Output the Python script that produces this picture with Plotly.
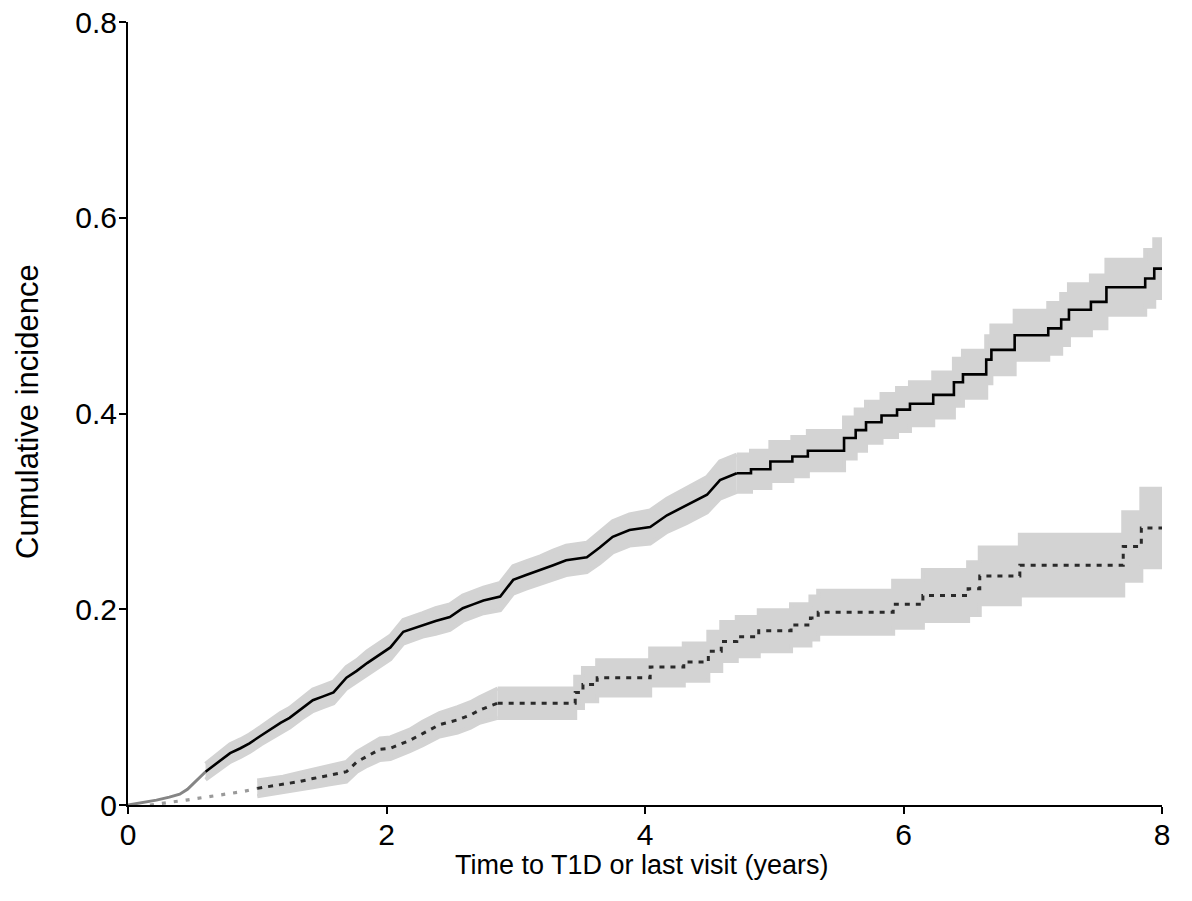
import plotly.graph_objects as go

# ---- Data ----
# Upper curve: early segment (grey, solid)
up_early_t = [0.00, 0.05, 0.12, 0.22, 0.32, 0.40, 0.46, 0.50, 0.55, 0.60]
up_early_y = [0.000, 0.001, 0.003, 0.005, 0.008, 0.011, 0.016, 0.021, 0.027, 0.034]

# Upper curve: main segment (black, solid) with confidence band
up_t = [0.60, 0.70, 0.79, 0.87, 0.94, 1.03, 1.12, 1.18, 1.25, 1.34, 1.43, 1.51, 1.59, 1.69, 1.77,
        1.85, 1.94, 2.03, 2.13, 2.20, 2.28, 2.38, 2.49, 2.59, 2.67, 2.75, 2.88, 2.98, 3.08, 3.19,
        3.29, 3.39, 3.55, 3.65, 3.75, 3.88, 4.04, 4.17, 4.32, 4.48, 4.58, 4.71, 4.82, 4.97, 5.14,
        5.26, 5.54, 5.63, 5.71, 5.83, 5.95, 6.05, 6.23, 6.39, 6.46, 6.64, 6.68, 6.86, 7.12, 7.22,
        7.28, 7.45, 7.57, 7.87, 7.94, 8.00]
up_y = [0.034, 0.044, 0.053, 0.058, 0.063, 0.071, 0.079, 0.084, 0.089, 0.098, 0.107, 0.111, 0.115, 0.130, 0.137,
        0.145, 0.153, 0.161, 0.177, 0.180, 0.184, 0.188, 0.192, 0.201, 0.205, 0.209, 0.213, 0.230, 0.235, 0.240,
        0.245, 0.250, 0.253, 0.263, 0.274, 0.281, 0.284, 0.296, 0.306, 0.317, 0.332, 0.339, 0.343, 0.351, 0.356,
        0.362, 0.375, 0.383, 0.391, 0.398, 0.404, 0.410, 0.419, 0.432, 0.440, 0.455, 0.465, 0.480, 0.487, 0.496,
        0.506, 0.514, 0.529, 0.538, 0.548, 0.548]
up_lo = [0.026, 0.036, 0.044, 0.049, 0.054, 0.062, 0.069, 0.074, 0.079, 0.088, 0.096, 0.100, 0.104, 0.119, 0.126,
         0.133, 0.141, 0.149, 0.165, 0.168, 0.172, 0.175, 0.179, 0.188, 0.192, 0.196, 0.199, 0.216, 0.221, 0.226,
         0.230, 0.235, 0.238, 0.247, 0.258, 0.265, 0.267, 0.279, 0.288, 0.299, 0.313, 0.320, 0.324, 0.331, 0.336,
         0.342, 0.354, 0.362, 0.370, 0.376, 0.382, 0.388, 0.396, 0.408, 0.416, 0.431, 0.440, 0.455, 0.461, 0.470,
         0.480, 0.487, 0.501, 0.509, 0.518, 0.518]
up_hi = [0.042, 0.052, 0.062, 0.067, 0.072, 0.080, 0.089, 0.094, 0.099, 0.108, 0.118, 0.122, 0.126, 0.141, 0.148,
         0.157, 0.165, 0.173, 0.189, 0.192, 0.196, 0.201, 0.205, 0.214, 0.218, 0.222, 0.227, 0.244, 0.249, 0.254,
         0.260, 0.265, 0.268, 0.279, 0.290, 0.297, 0.301, 0.313, 0.324, 0.335, 0.351, 0.358, 0.362, 0.371, 0.376,
         0.382, 0.396, 0.404, 0.412, 0.420, 0.426, 0.432, 0.442, 0.456, 0.464, 0.479, 0.490, 0.505, 0.513, 0.522,
         0.532, 0.541, 0.557, 0.567, 0.578, 0.578]
UP_SPLIT = 41  # before this index the many small steps read as a jagged line

# Lower curve: early segment (grey, dotted)
lo_early_t = [0.17, 0.30, 0.45, 0.60, 0.75, 0.90, 1.00]
lo_early_y = [0.000, 0.002, 0.005, 0.008, 0.011, 0.014, 0.017]

# Lower curve: main segment (dark, dashed) with confidence band
lo_t = [1.00, 1.10, 1.20, 1.33, 1.43, 1.55, 1.69, 1.77, 1.85, 1.95, 2.03, 2.18, 2.28, 2.41, 2.55,
        2.65, 2.72, 2.86, 3.46, 3.52, 3.63, 4.04, 4.30, 4.49, 4.59, 4.71, 4.88, 5.13, 5.28, 5.34,
        5.92, 6.15, 6.50, 6.59, 6.90, 7.70, 7.84, 8.00]
lo_y = [0.017, 0.019, 0.021, 0.024, 0.027, 0.030, 0.034, 0.044, 0.050, 0.057, 0.058, 0.066, 0.073, 0.082, 0.087,
        0.092, 0.097, 0.104, 0.115, 0.123, 0.130, 0.141, 0.146, 0.157, 0.167, 0.172, 0.178, 0.184, 0.191, 0.197,
        0.205, 0.214, 0.221, 0.234, 0.245, 0.264, 0.283, 0.283]
lo_lo = [0.009, 0.011, 0.013, 0.015, 0.018, 0.021, 0.024, 0.034, 0.040, 0.046, 0.047, 0.055, 0.061, 0.070, 0.074,
         0.079, 0.084, 0.089, 0.099, 0.106, 0.112, 0.122, 0.127, 0.137, 0.147, 0.152, 0.157, 0.163, 0.169, 0.175,
         0.181, 0.188, 0.194, 0.205, 0.214, 0.229, 0.243, 0.243]
lo_hi = [0.025, 0.027, 0.029, 0.033, 0.036, 0.039, 0.044, 0.054, 0.060, 0.068, 0.069, 0.077, 0.085, 0.094, 0.100,
         0.105, 0.110, 0.119, 0.131, 0.140, 0.148, 0.160, 0.165, 0.177, 0.187, 0.192, 0.199, 0.205, 0.213, 0.219,
         0.229, 0.240, 0.248, 0.263, 0.276, 0.299, 0.323, 0.323]
LO_SPLIT = 17

x_ticks = [0, 2, 4, 6, 8]
x_tick_labels = ["0", "2", "4", "6", "8"]
y_ticks = [0, 0.2, 0.4, 0.6, 0.8]
y_tick_labels = ["0", "0.2", "0.4", "0.6", "0.8"]

BAND = "#d3d3d3"
FONT = "Arial, Liberation Sans, sans-serif"

fig = go.Figure()


def pieces(t, a, split):
    return [(t[:split + 1], a[:split + 1], "linear"), (t[split:], a[split:], "hv")]


# Confidence bands
for t, lo, hi, sp in [(up_t, up_lo, up_hi, UP_SPLIT), (lo_t, lo_lo, lo_hi, LO_SPLIT)]:
    for (tt, ll, shp), (_, hh, _) in zip(pieces(t, lo, sp), pieces(t, hi, sp)):
        fig.add_trace(go.Scatter(x=tt, y=ll, mode="lines", line=dict(width=4, color=BAND, shape=shp),
                                 showlegend=False, hoverinfo="skip"))
        fig.add_trace(go.Scatter(x=tt, y=hh, mode="lines", line=dict(width=4, color=BAND, shape=shp),
                                 fill="tonexty", fillcolor=BAND, showlegend=False, hoverinfo="skip"))

# Early grey segments
fig.add_trace(go.Scatter(x=up_early_t, y=up_early_y, mode="lines",
                         line=dict(width=3, color="#858585"), showlegend=False))
fig.add_trace(go.Scatter(x=lo_early_t, y=lo_early_y, mode="lines",
                         line=dict(width=3.2, color="#9a9a9a", dash="4px,8px"), showlegend=False))

# Main curves
for tt, yy, shp in pieces(up_t, up_y, UP_SPLIT):
    fig.add_trace(go.Scatter(x=tt, y=yy, mode="lines",
                             line=dict(width=2.6, color="#000000", shape=shp), showlegend=False))
for tt, yy, shp in pieces(lo_t, lo_y, LO_SPLIT):
    fig.add_trace(go.Scatter(x=tt, y=yy, mode="lines",
                             line=dict(width=3, color="#2a2a2a", shape=shp, dash="5px,6px"), showlegend=False))

axis_common = dict(showgrid=False, zeroline=False, showline=True, linecolor="black", linewidth=2,
                   ticks="outside", ticklen=7, tickwidth=2, tickcolor="black", automargin=False,
                   ticklabeloverflow="allow",
                   tickfont=dict(family=FONT, size=30, color="black"))

# the page body adds an 8px margin; size the figure so the plot lands where the reference has it
fig.update_layout(
    width=1184, height=893,
    margin=dict(l=120, r=30, t=14, b=96),
    paper_bgcolor="white", plot_bgcolor="white",
    font=dict(family=FONT, color="black"),
    xaxis=dict(range=[0, 8], tickvals=x_ticks, ticktext=x_tick_labels, ticklabelstandoff=-5, **axis_common),
    yaxis=dict(range=[0, 0.8], tickvals=y_ticks, ticktext=y_tick_labels, ticklabelstandoff=-4, **axis_common),
    annotations=[
        dict(text="Time to T1D or last visit (years)", xref="paper", yref="paper",
             x=0.497, y=-0.077, xanchor="center", yanchor="middle", showarrow=False,
             font=dict(family=FONT, size=27, color="black")),
        dict(text="Cumulative incidence", xref="paper", yref="paper",
             x=-0.0967, y=0.502, xanchor="center", yanchor="middle", showarrow=False,
             textangle=-90, font=dict(family=FONT, size=31, color="black")),
    ],
)

fig.write_html("out.html")
